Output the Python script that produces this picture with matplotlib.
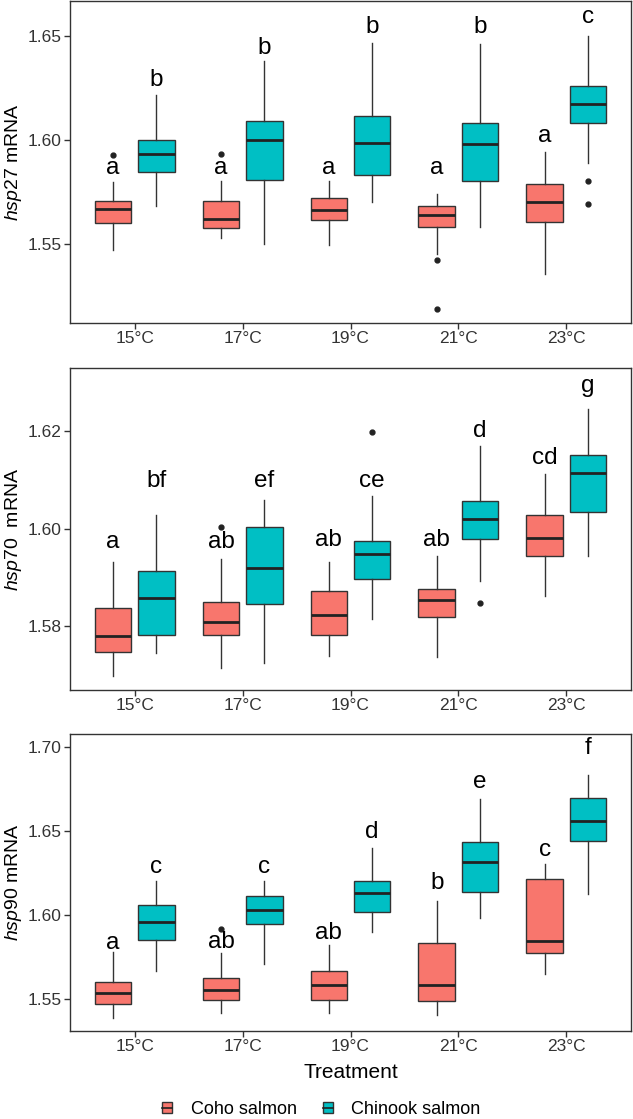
import matplotlib
matplotlib.use("Agg")
import matplotlib.pyplot as plt
from matplotlib.patches import Patch
from matplotlib.lines import Line2D
from matplotlib.legend_handler import HandlerTuple

plt.rcParams["font.family"] = ["Liberation Sans", "DejaVu Sans"]
plt.rcParams["mathtext.fontset"] = "custom"
plt.rcParams["mathtext.rm"] = "Liberation Sans"
plt.rcParams["mathtext.it"] = "Liberation Sans:italic"

treatments = ["15°C", "17°C", "19°C", "21°C", "23°C"]
species = ["Coho salmon", "Chinook salmon"]
colors = ["#F8766D", "#00BFC4"]

# box stats per gene: whislo, q1, med, q3, whishi (one value per treatment)
hsp27_coho = dict(
    whislo=[1.5471, 1.5526, 1.5495, 1.5452, 1.5353],
    q1=[1.5599, 1.5577, 1.5614, 1.5583, 1.5603],
    med=[1.5668, 1.5620, 1.5662, 1.5638, 1.5700],
    q3=[1.5704, 1.5705, 1.5718, 1.5680, 1.5788],
    whishi=[1.5795, 1.5800, 1.5800, 1.5740, 1.5941],
    fliers=[[1.5926], [1.5933], [], [1.5423, 1.5186], []],
)
hsp27_chinook = dict(
    whislo=[1.5684, 1.5498, 1.5702, 1.5580, 1.5888],
    q1=[1.5846, 1.5806, 1.5830, 1.5800, 1.6083],
    med=[1.5934, 1.6000, 1.5984, 1.5981, 1.6171],
    q3=[1.5998, 1.6091, 1.6115, 1.6080, 1.6258],
    whishi=[1.6216, 1.6377, 1.6465, 1.6460, 1.6502],
    fliers=[[], [], [], [], [1.5803, 1.5691]],
)
hsp27_letters_coho = ["a", "a", "a", "a", "a"]
hsp27_letters_coho_y = [1.5864, 1.5864, 1.5864, 1.5864, 1.6019]
hsp27_letters_chinook = ["b", "b", "b", "b", "c"]
hsp27_letters_chinook_y = [1.6288, 1.6441, 1.6545, 1.6545, 1.6593]

hsp70_coho = dict(
    whislo=[1.5699, 1.5715, 1.5739, 1.5738, 1.5862],
    q1=[1.5748, 1.5783, 1.5782, 1.5820, 1.5945],
    med=[1.5780, 1.5809, 1.5823, 1.5855, 1.5980],
    q3=[1.5838, 1.5850, 1.5872, 1.5877, 1.6027],
    whishi=[1.5932, 1.5938, 1.5931, 1.5945, 1.6111],
    fliers=[[], [1.6004], [], [], []],
)
hsp70_chinook = dict(
    whislo=[1.5745, 1.5726, 1.5816, 1.5892, 1.5943],
    q1=[1.5782, 1.5845, 1.5897, 1.5978, 1.6035],
    med=[1.5859, 1.5919, 1.5948, 1.6020, 1.6114],
    q3=[1.5913, 1.6004, 1.5975, 1.6057, 1.6150],
    whishi=[1.6028, 1.6058, 1.6066, 1.6169, 1.6245],
    fliers=[[], [], [1.6197], [1.5847], []],
)
hsp70_letters_coho = ["a", "ab", "ab", "ab", "cd"]
hsp70_letters_coho_y = [1.5973, 1.5973, 1.5976, 1.5976, 1.6145]
hsp70_letters_chinook = ["bf", "ef", "ce", "d", "g"]
hsp70_letters_chinook_y = [1.6098, 1.6098, 1.6098, 1.6199, 1.6292]

hsp90_coho = dict(
    whislo=[1.5391, 1.5421, 1.5421, 1.5407, 1.5649],
    q1=[1.5474, 1.5494, 1.5494, 1.5490, 1.5776],
    med=[1.5540, 1.5556, 1.5583, 1.5585, 1.5845],
    q3=[1.5601, 1.5625, 1.5670, 1.5833, 1.6216],
    whishi=[1.5780, 1.5774, 1.5823, 1.6085, 1.6308],
    fliers=[[], [1.5917], [], [], []],
)
hsp90_chinook = dict(
    whislo=[1.5671, 1.5712, 1.5903, 1.5986, 1.6127],
    q1=[1.5853, 1.5950, 1.6018, 1.6137, 1.6440],
    med=[1.5958, 1.6030, 1.6135, 1.6315, 1.6560],
    q3=[1.6060, 1.6115, 1.6204, 1.6437, 1.6700],
    whishi=[1.6206, 1.6206, 1.6403, 1.6694, 1.6835],
    fliers=[[], [], [], [], []],
)
hsp90_letters_coho = ["a", "ab", "ab", "b", "c"]
hsp90_letters_coho_y = [1.5837, 1.5843, 1.5893, 1.6194, 1.6389]
hsp90_letters_chinook = ["c", "c", "d", "e", "f"]
hsp90_letters_chinook_y = [1.6290, 1.6290, 1.6494, 1.6792, 1.6994]

panels = [
    (hsp27_coho, hsp27_chinook, hsp27_letters_coho, hsp27_letters_coho_y,
     hsp27_letters_chinook, hsp27_letters_chinook_y,
     r"$\it{hsp27}$ mRNA", [1.55, 1.60, 1.65], (1.5119, 1.6668)),
    (hsp70_coho, hsp70_chinook, hsp70_letters_coho, hsp70_letters_coho_y,
     hsp70_letters_chinook, hsp70_letters_chinook_y,
     r"$\it{hsp70}$  mRNA", [1.58, 1.60, 1.62], (1.5670, 1.6328)),
    (hsp90_coho, hsp90_chinook, hsp90_letters_coho, hsp90_letters_coho_y,
     hsp90_letters_chinook, hsp90_letters_chinook_y,
     r"$\it{hsp90}$ mRNA", [1.55, 1.60, 1.65, 1.70], (1.5312, 1.7079)),
]

fig = plt.figure(figsize=(6.33, 11.19), dpi=100)
axes_pos = [(0.7114, 0.9991), (0.3834, 0.6709), (0.0786, 0.3441)]
edge = "#333333"


def to_stats(d):
    out = []
    for i in range(len(d["med"])):
        out.append(dict(whislo=d["whislo"][i], q1=d["q1"][i], med=d["med"][i],
                        q3=d["q3"][i], whishi=d["whishi"][i], fliers=d["fliers"][i]))
    return out


for k, (coho, chin, lc, lcy, lk, lky, ylab, yt, ylim) in enumerate(panels):
    b, t = axes_pos[k]
    ax = fig.add_axes([70 / 633, b, 561 / 633, t - b])
    xs = list(range(len(treatments)))
    for s, (d, col, off) in enumerate([(coho, colors[0], -0.2), (chin, colors[1], 0.2)]):
        ax.bxp(to_stats(d), positions=[x + off for x in xs], widths=0.34,
               patch_artist=True, showcaps=False, manage_ticks=False,
               boxprops=dict(facecolor=col, edgecolor=edge, linewidth=1.0),
               medianprops=dict(color="#222222", linewidth=2.0),
               whiskerprops=dict(color=edge, linewidth=1.0),
               flierprops=dict(marker="o", markerfacecolor="#222222",
                               markeredgecolor="#222222", markersize=3.5))
    for i in xs:
        ax.text(i - 0.2, lcy[i], lc[i], ha="center", va="center", fontsize=17.5)
        ax.text(i + 0.2, lky[i], lk[i], ha="center", va="center", fontsize=17.5)
    ax.set_xlim(-0.6, 4.6)
    ax.set_ylim(*ylim)
    ax.set_yticks(yt)
    ax.set_yticklabels([f"{v:.2f}" for v in yt])
    ax.set_xticks(xs)
    ax.set_xticklabels(treatments)
    ax.tick_params(axis="both", labelsize=12.5, length=4, width=1, color=edge,
                   labelcolor="#333333", pad=2)
    for sp in ax.spines.values():
        sp.set_color(edge)
        sp.set_linewidth(1.0)
    ax.set_ylabel(ylab, fontsize=14)
    ax.yaxis.set_label_coords(-0.082, 0.5)
    if k == 2:
        ax.set_xlabel("Treatment", fontsize=15)
        ax.xaxis.set_label_coords(0.5, -0.108)

handles = [(Patch(facecolor=c, edgecolor=edge, linewidth=1.0),
            Line2D([], [], color="#222222", linewidth=1.2)) for c in colors]
fig.legend(handles, species, loc="center", bbox_to_anchor=(0.508, 0.0085), ncol=2,
           frameon=False, fontsize=13, handlelength=0.55, handleheight=0.6,
           handletextpad=1.05, columnspacing=1.4,
           handler_map={tuple: HandlerTuple(ndivide=1, pad=0)})

fig.savefig("out.png", dpi=100)
